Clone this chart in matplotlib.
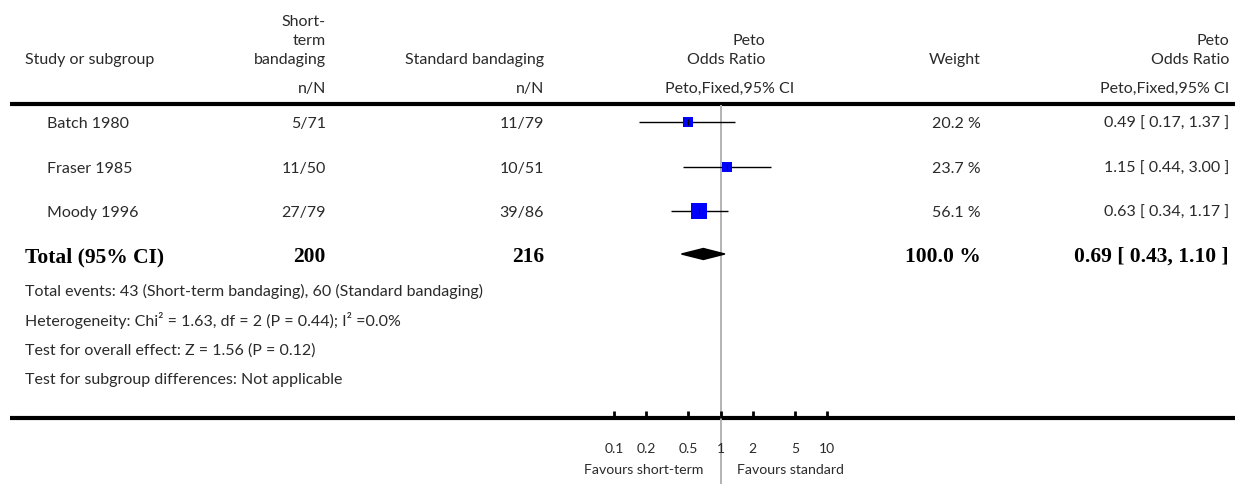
import matplotlib
matplotlib.use("Agg")
import matplotlib.pyplot as plt
from matplotlib.patches import Polygon

# ---- data ----
studies = ["Batch 1980", "Fraser 1985", "Moody 1996"]
short_nN = ["5/71", "11/50", "27/79"]
standard_nN = ["11/79", "10/51", "39/86"]
odds = [0.49, 1.15, 0.63]
ci_low = [0.17, 0.44, 0.34]
ci_high = [1.37, 3.00, 1.17]
weights = [20.2, 23.7, 56.1]
total_short = 200
total_standard = 216
total_or = 0.69
total_low = 0.43
total_high = 1.10
total_weight = 100.0
footer_lines = [
    "Total events: 43 (Short-term bandaging), 60 (Standard bandaging)",
    "Heterogeneity: Chi\u00b2 = 1.63, df = 2 (P = 0.44); I\u00b2 =0.0%",
    "Test for overall effect: Z = 1.56 (P = 0.12)",
    "Test for subgroup differences: Not applicable",
]
tick_vals = [0.1, 0.2, 0.5, 1, 2, 5, 10]
tick_labels = ["0.1", "0.2", "0.5", "1", "2", "5", "10"]
favours_left = "Favours short-term"
favours_right = "Favours standard"

W, H = 1235, 484
fig = plt.figure(figsize=(W / 100, H / 100), dpi=100)
lay = fig.add_axes([0, 0, 1, 1])
lay.set_xlim(0, W)
lay.set_ylim(H, 0)
lay.axis("off")

FONT = "Lato"
SERIF = "Liberation Serif"
TC = "#2a2a2a"
FS = 11.5
BFS = 15.5

def t(x, y, s, ha="left", fs=FS, bold=False, va="center"):
    lay.text(x, y, s, ha=ha, va=va, fontsize=fs, color=TC if not bold else "black",
             family=SERIF if bold else FONT, fontweight="bold" if bold else "normal")

# headers
t(25, 60, "Study or subgroup")
t(326, 22, "Short-", ha="right")
t(326, 41, "term", ha="right")
t(326, 60, "bandaging", ha="right")
t(544, 60, "Standard bandaging", ha="right")
t(326, 89, "n/N", ha="right")
t(544, 89, "n/N", ha="right")
t(765, 41, "Peto", ha="right")
t(765, 60, "Odds Ratio", ha="right")
t(730, 89, "Peto,Fixed,95% CI", ha="center")
t(981, 60, "Weight", ha="right")
t(1229, 41, "Peto", ha="right")
t(1229, 60, "Odds Ratio", ha="right")
t(1229, 89, "Peto,Fixed,95% CI", ha="right")

row_y = [124, 169, 213]
for i, name in enumerate(studies):
    y = row_y[i]
    t(47, y, name)
    t(326, y, short_nN[i], ha="right")
    t(544, y, standard_nN[i], ha="right")
    t(981, y, f"{weights[i]:.1f} %", ha="right")
    t(1229, y, f"{odds[i]:.2f} [ {ci_low[i]:.2f}, {ci_high[i]:.2f} ]", ha="right")

ty = 257
t(25, ty, "Total (95% CI)", fs=BFS, bold=True)
t(326, ty, str(total_short), ha="right", fs=BFS, bold=True)
t(544, ty, str(total_standard), ha="right", fs=BFS, bold=True)
t(981, ty, f"{total_weight:.1f} %", ha="right", fs=BFS, bold=True)
t(1229, ty, f"{total_or:.2f} [ {total_low:.2f}, {total_high:.2f} ]", ha="right", fs=BFS, bold=True)

for j, line in enumerate(footer_lines):
    t(25, 291 + j * 29.7, line)

# thick rules
lay.plot([10, W], [104, 104], color="black", lw=3.0, solid_capstyle="butt")
lay.plot([10, W], [418, 418], color="black", lw=3.0, solid_capstyle="butt")

# ---- forest axes ----
px0, px1 = 560, 880
c, dec = 720.5, 106.5
xl0 = 10 ** ((px0 - c) / dec)
xl1 = 10 ** ((px1 - c) / dec)
fa = fig.add_axes([px0 / W, 0, (px1 - px0) / W, 1])
fa.set_xscale("log")
fa.set_xlim(xl0, xl1)
fa.set_ylim(H, 0)
fa.patch.set_alpha(0)
for s in fa.spines.values():
    s.set_visible(False)
fa.spines["bottom"].set_position(("data", 418))
fa.set_yticks([])
fa.set_xticks(tick_vals)
fa.set_xticklabels(tick_labels)
fa.xaxis.set_minor_locator(matplotlib.ticker.NullLocator())
fa.tick_params(axis="x", direction="in", length=5, width=2, pad=18,
               labelsize=10, labelcolor=TC)
for lab in fa.get_xticklabels():
    lab.set_family(FONT)

fa.vlines(1, 105, H, color="#b3b3b3", lw=1.4, zorder=1)

for i in range(len(studies)):
    y = row_y[i] - 2
    fa.hlines(y, ci_low[i], ci_high[i], color="black", lw=1.0, zorder=2)
    side_px = 2.15 * weights[i] ** 0.5
    fa.scatter([odds[i]], [y], marker="s", s=(side_px * 0.72) ** 2,
               color="#0000ff", linewidths=0, zorder=3)
    fa.plot([odds[i]], [y], marker="|", ms=4, color="black", mew=0.8, zorder=4)

dy = 254
fa.add_patch(Polygon([(total_low, dy), (total_or, dy - 5.5), (total_high, dy),
                      (total_or, dy + 5.5)], closed=True, color="black", zorder=3))

fa.text(0.685, 470, favours_left, ha="right", va="center", fontsize=10.2, color=TC, family=FONT)
fa.text(1.43, 470, favours_right, ha="left", va="center", fontsize=10.2, color=TC, family=FONT)

fig.savefig("out.png", dpi=100)
